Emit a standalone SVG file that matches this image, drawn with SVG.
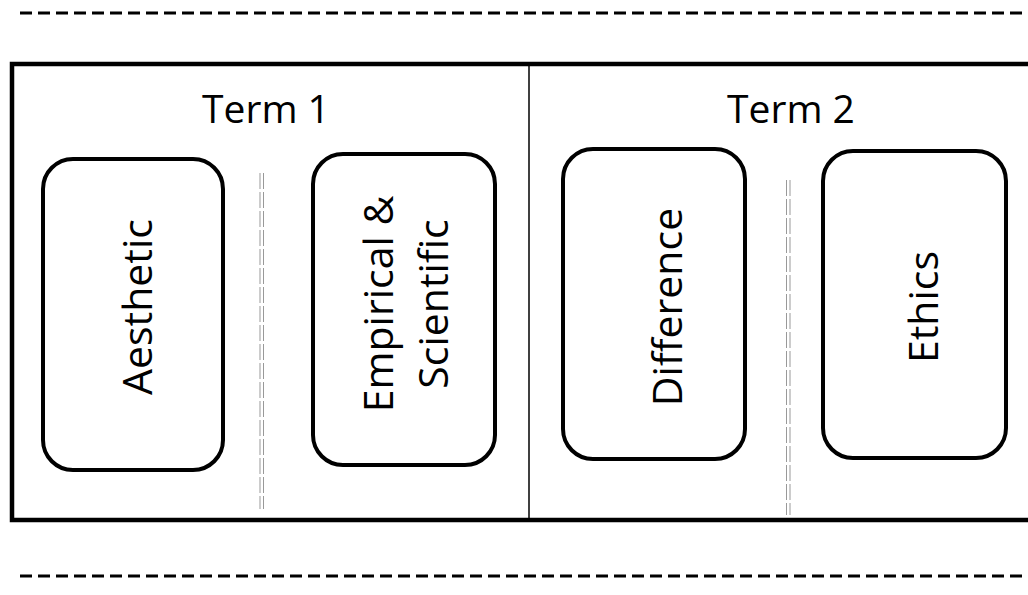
<svg xmlns="http://www.w3.org/2000/svg" width="1028" height="595" viewBox="0 0 1028 595">
<style>
.dash{stroke:#000;stroke-width:3;stroke-dasharray:12 6;fill:none}
.frame{fill:none;stroke:#000;stroke-width:4.5}
.div{stroke:#000;stroke-width:1.5}
.sep{stroke:#999;stroke-width:1;stroke-dasharray:16 3;fill:none}
.node{fill:#fff;stroke:#000;stroke-width:4}
.t{font-family:"Open Sans","Liberation Sans",sans-serif;fill:#000;text-anchor:middle}
.term{font-size:39px}
.lbl{font-size:41px}
</style>
<rect width="1028" height="595" fill="#fff"/>
<line class="dash" x1="20" y1="13" x2="1028" y2="13"/>
<line class="dash" x1="20" y1="576" x2="1028" y2="576"/>
<path class="frame" d="M1032,64 H12 V520 H1032"/>
<line class="div" x1="529" y1="64" x2="529" y2="520"/>
<text class="t term" x="266" y="123">Term 1</text>
<text class="t term" x="791" y="123">Term 2</text>
<g id="separators">
<line class="sep" x1="260" y1="173" x2="260" y2="509"/>
<line class="sep" x1="263.5" y1="173" x2="263.5" y2="509"/>
<line class="sep" x1="786.5" y1="180" x2="786.5" y2="515"/>
<line class="sep" x1="790" y1="180" x2="790" y2="515"/>
</g>
<g id="aesthetic">
<rect class="node" x="43" y="159" width="180" height="311" rx="30"/>
<text class="t lbl" transform="translate(152,307) rotate(-90)">Aesthetic</text>
</g>
<g id="empirical">
<rect class="node" x="313" y="154" width="182" height="311" rx="30"/>
<text class="t lbl" transform="translate(393,304) rotate(-90)">Empirical &amp;</text>
<text class="t lbl" transform="translate(448,304) rotate(-90)">Scientific</text>
</g>
<g id="difference">
<rect class="node" x="563" y="149" width="182" height="310" rx="30"/>
<text class="t lbl" transform="translate(682,307) rotate(-90)">Difference</text>
</g>
<g id="ethics">
<rect class="node" x="823" y="151" width="183" height="307" rx="30"/>
<text class="t lbl" transform="translate(938,307) rotate(-90)">Ethics</text>
</g>
</svg>
